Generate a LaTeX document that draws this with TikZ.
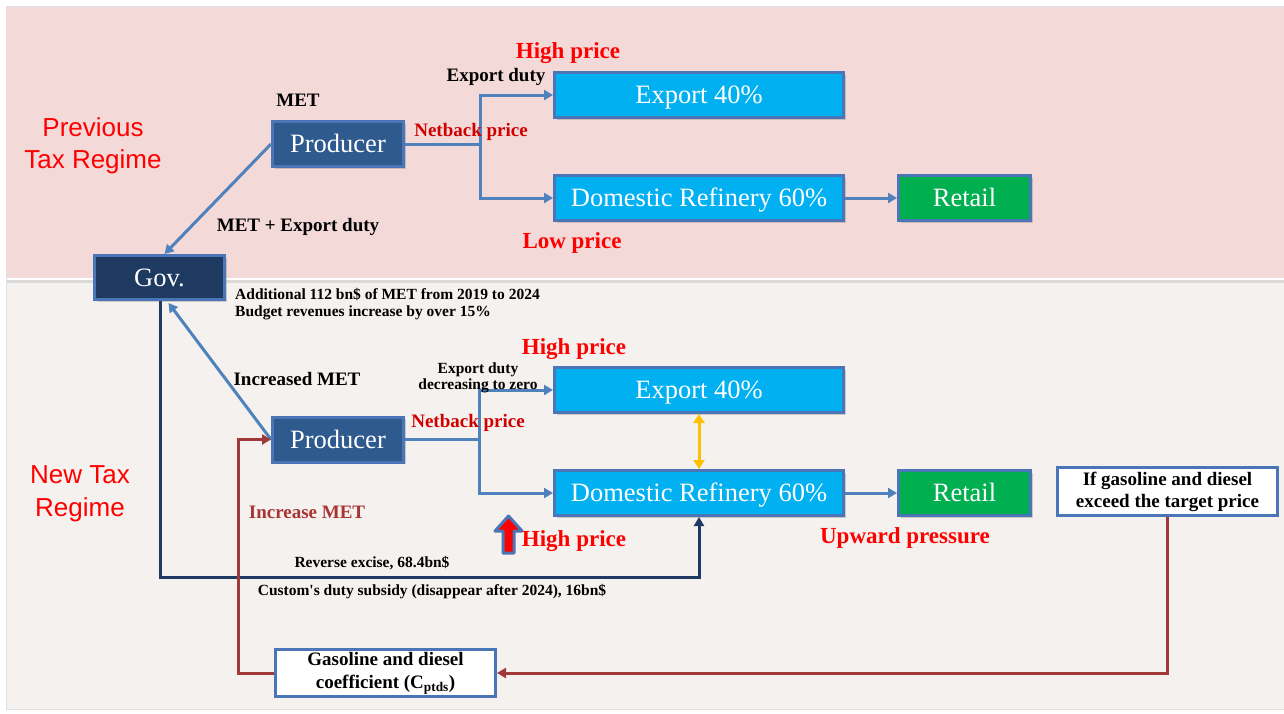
\documentclass[tikz,border=0pt]{standalone}
\usepackage{fontspec}
\setmainfont{Liberation Serif}
\newfontfamily\arialf{Liberation Sans}
\usetikzlibrary{arrows.meta,shadows,calc}
\definecolor{pinkbg}{HTML}{F4D9D9}
\definecolor{beigebg}{HTML}{F5F1EE}
\definecolor{boxborder}{HTML}{4A76B8}
\definecolor{prodfill}{HTML}{2F5A8E}
\definecolor{govfill}{HTML}{1F3A60}
\definecolor{expfill}{HTML}{00B0F0}
\definecolor{retfill}{HTML}{00B050}
\definecolor{conn}{HTML}{4F81BD}
\definecolor{navyline}{HTML}{1F3864}
\definecolor{brownred}{HTML}{A0393A}
\definecolor{labelred}{HTML}{FF0000}
\definecolor{darkred}{HTML}{D00000}
\definecolor{yel}{HTML}{FFC000}
\newcommand{\fsz}[2]{\fontsize{#1}{#2}\selectfont}
\tikzset{
  box/.style={draw=boxborder, line width=3pt, inner sep=0pt, text=white,
    text height=17.5pt, text depth=-1pt,
    font=\fsz{26.5}{30}, drop shadow={shadow xshift=2pt, shadow yshift=-2pt, opacity=0.35}},
  prodbox/.style={box, fill=prodfill, minimum width=131, minimum height=45},
  govbox/.style={box, fill=govfill, minimum width=130, minimum height=44},
  expbox/.style={box, fill=expfill, minimum width=289, minimum height=45},
  retbox/.style={box, fill=retfill, minimum width=132, minimum height=45},
  whitebox/.style={draw=boxborder, line width=3pt, fill=white, inner sep=0pt, text=black,
    font=\bfseries\fsz{19}{21}, align=center},
  lbl/.style={inner sep=0pt, font=\bfseries\fsz{19}{22}},
  redlbl/.style={inner sep=0pt, font=\bfseries\fsz{23}{26}, text=labelred},
  small/.style={inner sep=0pt, font=\bfseries\fsz{15.5}{17}},
  arr/.style={draw=conn, line width=3pt, -{Triangle[length=9pt,width=10pt]}},
}
\begin{document}
\begin{tikzpicture}[x=1pt,y=-1pt]
\useasboundingbox (0,0) rectangle (1284,713);
% backgrounds
\fill[white] (0,0) rectangle (1284,713);
\fill[pinkbg] (7,7) rectangle (1284,278);
\draw[black!15, line width=3pt] (7,281) -- (1284,281);
\fill[beigebg] (7,283) rectangle (1284,709);
\draw[black!12, line width=1pt] (6.5,6.5) rectangle (1284,709.5);

% regime labels
\node[inner sep=0pt, align=center, text=labelred, font=\arialf\fsz{26}{32}] (prevlbl) at (93,146) {Previous\\Tax Regime};
\node[inner sep=0pt, align=center, text=labelred, font=\arialf\fsz{26}{33}] (newlbl) at (80,494) {New Tax\\Regime};

% nodes top
\node[prodbox] (prod1) at (338,144) {Producer};
\node[govbox] (gov) at (159.5,277.5) {Gov.};
\node[expbox] (exp1) at (699,95) {Export 40\%};
\node[expbox] (dom1) at (699,198) {Domestic Refinery 60\%};
\node[retbox] (ret1) at (964.5,198) {Retail};

% nodes bottom
\node[prodbox] (prod2) at (338,439.5) {Producer};
\node[expbox] (exp2) at (699,390) {Export 40\%};
\node[expbox] (dom2) at (699,493) {Domestic Refinery 60\%};
\node[retbox] (ret2) at (964.5,493) {Retail};
\node[whitebox, minimum width=220, minimum height=48] (ifbox) at (1167.5,491.5) {If gasoline and diesel\\[1pt]exceed the target price};
\node[whitebox, minimum width=220, minimum height=47] (gas) at (385.5,673) {Gasoline and diesel\\[2pt]coefficient (C\textsubscript{ptds})};

% top connectors
\coordinate (j1) at (480,144);
\draw[draw=conn, line width=3pt] (prod1.east) -- (j1);
\draw[arr] (j1) |- (exp1.west);
\draw[arr] (j1) |- (dom1.west);
\draw[arr] (dom1.east) -- (ret1.west);
\draw[arr] (prod1.west) -- ($(gov.north)+(5,0)$);

% bottom connectors
\coordinate (j2) at (479,439.5);
\draw[draw=conn, line width=3pt] (prod2.east) -- (j2);
\draw[arr] (j2) |- (exp2.west);
\draw[arr] (j2) |- (dom2.west);
\draw[arr] (dom2.east) -- (ret2.west);
\draw[arr] (prod2.west) -- ($(gov.south)+(9,2)$);
\coordinate (navyc) at (160,577);
\draw[draw=navyline, line width=3pt, -{Triangle[length=9pt,width=10pt]}] (gov.south -| navyc) -- (navyc) -| (dom2.south);
\draw[draw=yel, line width=3pt, {Triangle[length=9pt,width=11pt]}-{Triangle[length=9pt,width=11pt]}] (exp2.south) -- (dom2.north);
\coordinate (rc) at (238,673);
\draw[draw=brownred, line width=3pt, -{Triangle[length=9pt,width=10pt]}] (ifbox.south) |- (gas.east);
\draw[draw=brownred, line width=3pt, -{Triangle[length=9pt,width=10pt]}] (gas.west) -- (rc) |- (prod2.west);

% red block arrow
\draw[draw=boxborder, line width=3pt, line join=round, fill=red] (503,553) -- (503,531) -- (495,531) -- (508.5,516) -- (522,531) -- (514,531) -- (514,553) -- cycle;

% labels top
\node[lbl] (met) at (298,100) {MET};
\node[lbl] (expduty) at (496,77) {Export duty};
\node[redlbl] (hp1) at (568,53) {High price};
\node[lbl, text=darkred] (nb1) at (471,132) {Netback price};
\node[redlbl] (lp1) at (572,243) {Low price};
\node[lbl] (metexp) at (298,227) {MET + Export duty};
\node[small, align=left, anchor=west] (addl) at (235,304.5) {Additional 112 bn\$ of MET from 2019 to 2024\\Budget revenues increase by over 15\%};

% labels bottom
\node[redlbl] (hp2) at (574,349) {High price};
\node[lbl] (incmet) at (297,379) {Increased MET};
\node[small, align=center, font=\bfseries\fsz{15.5}{16}] (expzero) at (478,378) {Export duty\\decreasing to zero};
\node[lbl, text=darkred] (nb2) at (468,423) {Netback price};
\node[lbl, text=brownred!90!red] (incmet2) at (307,512) {Increase MET};
\node[redlbl] (hp3) at (574,541) {High price};
\node[small] (revex) at (372,563) {Reverse excise, 68.4bn\$};
\node[small] (custom) at (432,592) {Custom\textquotesingle s duty subsidy (disappear after 2024), 16bn\$};
\node[redlbl] (upw) at (905,538) {Upward pressure};
\end{tikzpicture}
\end{document}
